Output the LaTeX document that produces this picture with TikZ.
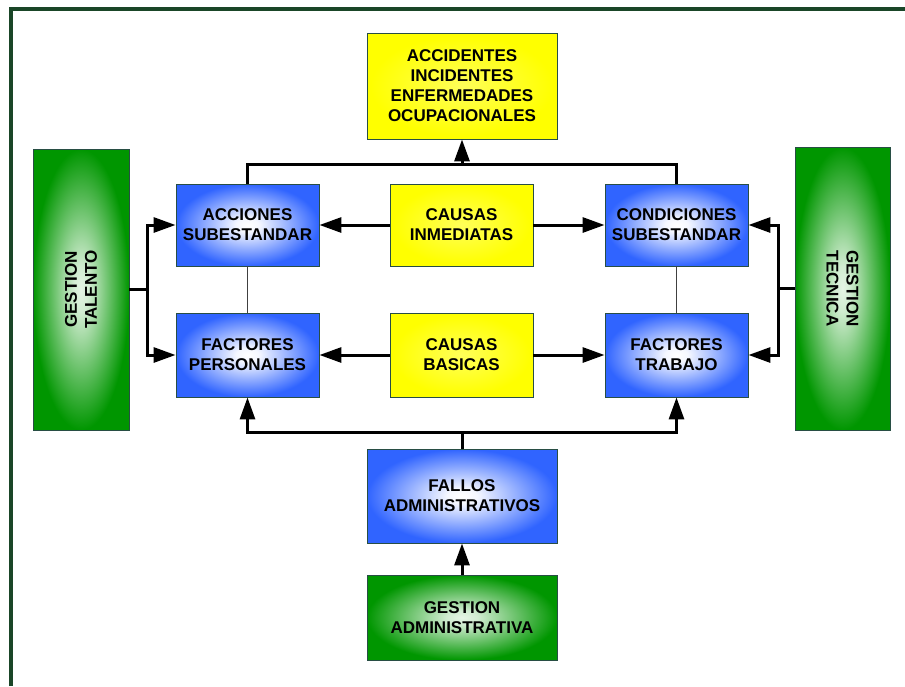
\documentclass[tikz,border=0pt]{standalone}
\usepackage{fontspec}
\setmainfont{Liberation Sans}
\usetikzlibrary{arrows.meta}

\definecolor{boxblue}{RGB}{48,100,255}
\definecolor{boxgreen}{RGB}{0,150,0}
\definecolor{boxyellow}{RGB}{255,255,0}
\definecolor{boxedge}{RGB}{40,78,68}
\definecolor{framegreen}{RGB}{26,70,40}

% elliptical glows, light in the middle and full colour near the edges
\pgfdeclareradialshading{blueglow}{\pgfpoint{0bp}{0bp}}{%
  color(0bp)=(white); color(4bp)=(white!95!boxblue);
  color(25bp)=(boxblue); color(50bp)=(boxblue)}
\pgfdeclareradialshading{greenglow}{\pgfpoint{0bp}{0bp}}{%
  color(0bp)=(white!90!boxgreen); color(4bp)=(white!82!boxgreen);
  color(25bp)=(boxgreen); color(50bp)=(boxgreen)}
\pgfdeclareradialshading{yellowglow}{\pgfpoint{0bp}{0bp}}{%
  color(0bp)=(boxyellow!65!white); color(24bp)=(boxyellow); color(50bp)=(boxyellow)}

\tikzset{
  box/.style={draw=boxedge, line width=0.9pt, align=center, inner sep=0pt,
    font=\fontsize{17}{20}\selectfont\bfseries},
  bluebox/.style={box, shading=blueglow, minimum width=143pt, minimum height=82pt},
  yellowbox/.style={box, shading=yellowglow},
  greenbox/.style={box, shading=greenglow},
  sidetext/.style={align=center, font=\fontsize{17}{20}\selectfont\bfseries},
  link/.style={line width=3pt, line join=miter},
  arrowlink/.style={link, -{Triangle[length=22pt,width=15pt]}},
  thinlink/.style={line width=0.7pt, draw=black!75},
}

\begin{document}
\begin{tikzpicture}[x=1pt, y=-1pt]
  \useasboundingbox (0,0) rectangle (905,686);

  % outer frame (left and top edges)
  \draw[framegreen, line width=4pt] (10.5,686) -- (10.5,8.5) -- (905,8.5);

  % outcome
  \node[yellowbox, minimum width=190pt, minimum height=106pt] (result) at (462,86)
    {ACCIDENTES\\INCIDENTES\\ENFERMEDADES\\OCUPACIONALES};

  % immediate causes row
  \node[bluebox] (acciones) at (247.5,225) {ACCIONES\\SUBESTANDAR};
  \node[yellowbox, minimum width=143pt, minimum height=82pt] (inmed) at (461.5,225)
    {CAUSAS\\INMEDIATAS};
  \node[bluebox] (condic) at (676.5,225) {CONDICIONES\\SUBESTANDAR};

  % basic causes row
  \node[bluebox, minimum height=84pt] (personal) at (247.5,355) {FACTORES\\PERSONALES};
  \node[yellowbox, minimum width=143pt, minimum height=84pt] (basicas) at (461.5,355)
    {CAUSAS\\BASICAS};
  \node[bluebox, minimum height=84pt] (trabajo) at (676.5,355) {FACTORES\\TRABAJO};

  % management boxes
  \node[greenbox, minimum width=96pt, minimum height=281pt] (talento) at (81,289.5) {};
  \node[sidetext, rotate=90] (talentotext) at (talento.center) {GESTION\\TALENTO};
  \node[greenbox, minimum width=95pt, minimum height=283pt] (tecnica) at (842.5,288.5) {};
  \node[sidetext, rotate=-90] (tecnicatext) at (tecnica.center) {GESTION\\TECNICA};

  \node[bluebox, minimum width=190pt, minimum height=94pt] (fallos) at (462,496)
    {FALLOS\\ADMINISTRATIVOS};
  \node[greenbox, minimum width=190pt, minimum height=85pt] (gadmin) at (462,617.5)
    {GESTION\\ADMINISTRATIVA};

  % junction points
  \coordinate (topjoin) at (462,164);
  \coordinate (botjoin) at (462,432);
  \coordinate (leftjoin) at (147,289.5);
  \coordinate (rightjoin) at (778,288.5);

  % upper bracket to the outcome
  \draw[link] (acciones.north) |- (topjoin) -| (condic.north);
  \draw[arrowlink] (topjoin) -- (result.south);

  % causes to their effects
  \draw[arrowlink] (inmed.west) -- (acciones.east);
  \draw[arrowlink] (inmed.east) -- (condic.west);
  \draw[arrowlink] (basicas.west) -- (personal.east);
  \draw[arrowlink] (basicas.east) -- (trabajo.west);

  % thin ties between rows
  \draw[thinlink] (acciones.south) -- (personal.north);
  \draw[thinlink] (condic.south) -- (trabajo.north);

  % talent management
  \draw[link] (talento.east) -- (leftjoin);
  \draw[arrowlink] (leftjoin) |- (acciones.west);
  \draw[arrowlink] (leftjoin) |- (personal.west);

  % technical management
  \draw[link] (tecnica.west) -- (rightjoin);
  \draw[arrowlink] (rightjoin) |- (condic.east);
  \draw[arrowlink] (rightjoin) |- (trabajo.east);

  % administrative failures
  \draw[link] (fallos.north) -- (botjoin);
  \draw[arrowlink] (botjoin) -| (personal.south);
  \draw[arrowlink] (botjoin) -| (trabajo.south);
  \draw[arrowlink] (gadmin.north) -- (fallos.south);
\end{tikzpicture}
\end{document}
